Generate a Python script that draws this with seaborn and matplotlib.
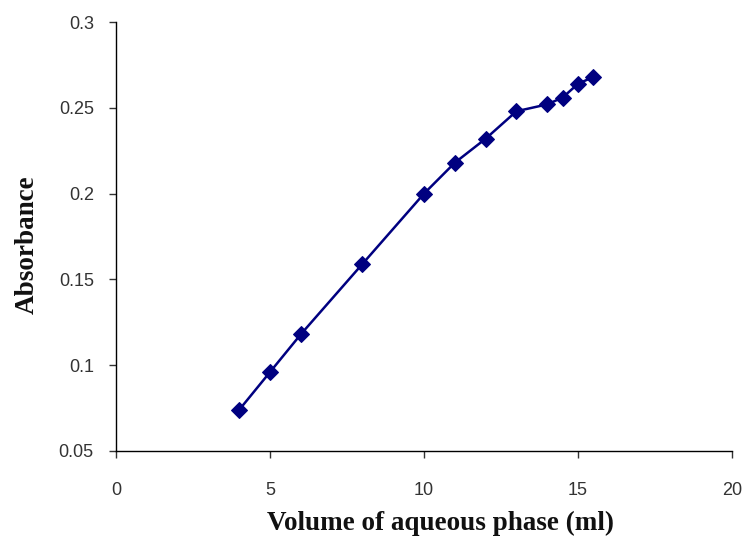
import matplotlib
matplotlib.use("Agg")
import matplotlib.pyplot as plt
import seaborn as sns
import pandas as pd

# values
volume = [4, 5, 6, 8, 10, 11, 12, 13, 14, 14.5, 15, 15.5]
absorbance = [0.074, 0.096, 0.118, 0.159, 0.200, 0.218, 0.232, 0.248, 0.252, 0.256, 0.264, 0.268]
x_ticks = [0, 5, 10, 15, 20]
y_ticks = [0.05, 0.1, 0.15, 0.2, 0.25, 0.3]
y_labels = ['0.05', '0.1', '0.15', '0.2', '0.25', '0.3']

df = pd.DataFrame({'volume': volume, 'absorbance': absorbance})

sns.set_style('white')
plt.rcParams['font.family'] = ['Liberation Sans', 'DejaVu Sans']

fig = plt.figure(figsize=(7.47, 5.41), dpi=100)
ax = fig.add_axes([0.1553, 0.1664, 0.8247, 0.7929])

sns.lineplot(x='volume', y='absorbance', data=df, ax=ax, color='#000080',
             marker='D', markersize=8, markeredgecolor='#000080', linewidth=1.8)

ax.set_xlim(0, 20)
ax.set_ylim(0.05, 0.3)
ax.set_xticks(x_ticks)
ax.set_yticks(y_ticks)
ax.set_yticklabels(y_labels)
ax.tick_params(axis='both', labelsize=13, colors='#333333', direction='out',
               length=5, width=1, bottom=True, left=True)
ax.tick_params(axis='x', pad=17)
ax.tick_params(axis='y', pad=11)

sns.despine(ax=ax)
for s in ['left', 'bottom']:
    ax.spines[s].set_color('black')
    ax.spines[s].set_linewidth(1)

ax.set_xlabel('Volume of aqueous phase (ml)', family='Liberation Serif',
              fontweight='bold', fontsize=19.5, color='#111111')
ax.set_ylabel('Absorbance', family='Liberation Serif',
              fontweight='bold', fontsize=19.5, color='#111111')
ax.xaxis.set_label_coords(0.526, -0.14)
ax.yaxis.set_label_coords(-0.123, 0.48)

plt.savefig('out.png', dpi=100)
